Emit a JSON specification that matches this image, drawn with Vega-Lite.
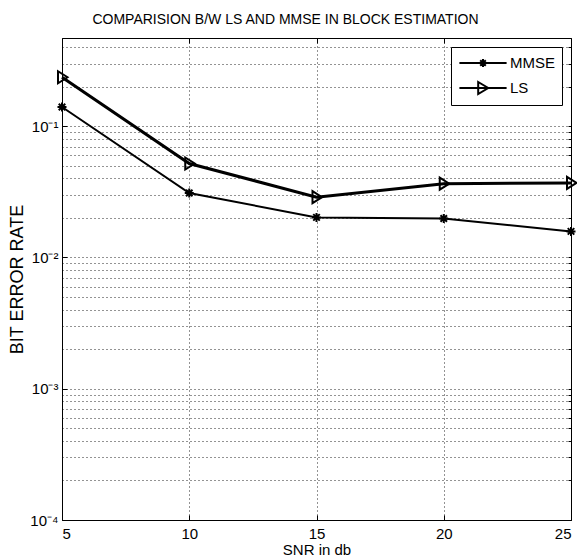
{
  "$schema": "https://vega.github.io/schema/vega-lite/v6.json",
  "width": 509,
  "height": 482,
  "autosize": {"type": "none"},
  "padding": {"left": 62, "top": 38, "right": 6, "bottom": 36},
  "background": "white",
  "title": {
    "text": "COMPARISION B/W LS AND MMSE IN BLOCK ESTIMATION",
    "fontSize": 14,
    "fontWeight": "normal",
    "font": "Liberation Sans",
    "color": "#000",
    "offset": 11,
    "dx": -31
  },
  "config": {
    "view": {"stroke": "#000", "strokeWidth": 1},
    "axis": {
      "domainColor": "#000",
      "tickColor": "#000",
      "labelColor": "#000",
      "titleColor": "#000",
      "labelFont": "Liberation Sans",
      "titleFont": "Liberation Sans",
      "titleFontWeight": "normal",
      "gridColor": "#000",
      "gridDash": [1, 3],
      "gridOpacity": 0.85,
      "gridWidth": 1
    },
    "legend": {
      "labelFont": "Liberation Sans",
      "labelColor": "#000"
    }
  },
  "data": {
    "values": [
      {"snr": 5, "ber": 0.14, "series": "MMSE"},
      {"snr": 10, "ber": 0.031, "series": "MMSE"},
      {"snr": 15, "ber": 0.0202, "series": "MMSE"},
      {"snr": 20, "ber": 0.0198, "series": "MMSE"},
      {"snr": 25, "ber": 0.0158, "series": "MMSE"},
      {"snr": 5, "ber": 0.236, "series": "LS"},
      {"snr": 10, "ber": 0.052, "series": "LS"},
      {"snr": 15, "ber": 0.0288, "series": "LS"},
      {"snr": 20, "ber": 0.0365, "series": "LS"},
      {"snr": 25, "ber": 0.037, "series": "LS"}
    ]
  },
  "layer": [
    {
      "transform": [{"filter": "datum.series === 'MMSE'"}],
      "mark": {"type": "line", "color": "#000", "strokeWidth": 2},
      "encoding": {
        "x": {
          "field": "snr",
          "type": "quantitative",
          "scale": {"domain": [5, 25], "nice": false, "zero": false},
          "axis": {
            "orient": "bottom",
            "values": [5, 10, 15, 20, 25],
            "title": "SNR in db",
            "titleFontSize": 15,
            "titlePadding": 1,
            "labelFontSize": 15,
            "tickSize": -5,
            "labelPadding": 11,
            "domain": false,
            "grid": true
          }
        },
        "y": {
          "field": "ber",
          "type": "quantitative",
          "scale": {"type": "log", "domain": [0.0001, 0.47], "nice": false, "zero": false},
          "axis": {
            "orient": "left",
            "values": [0.0001, 0.001, 0.01, 0.1],
            "labelExpr": "datum.value < 0.0005 ? '10⁻⁴' : datum.value < 0.005 ? '10⁻³' : datum.value < 0.05 ? '10⁻²' : '10⁻¹'",
            "title": "BIT ERROR RATE",
            "titleFontSize": 18,
            "titlePadding": 3,
            "labelFontSize": 15,
            "tickSize": -5,
            "labelPadding": 9,
            "domain": false,
            "grid": false
          }
        }
      }
    },
    {
      "transform": [{"filter": "datum.series === 'LS'"}],
      "mark": {"type": "line", "color": "#000", "strokeWidth": 3},
      "encoding": {
        "x": {"field": "snr", "type": "quantitative", "axis": null},
        "y": {"field": "ber", "type": "quantitative", "axis": null}
      }
    },
    {
      "mark": {"type": "point", "size": 100, "filled": false, "strokeWidth": 2, "color": "#000", "opacity": 1},
      "encoding": {
        "x": {
          "field": "snr",
          "type": "quantitative",
          "axis": {
            "orient": "top",
            "values": [5, 10, 15, 20, 25],
            "title": null,
            "labels": false,
            "tickSize": -5,
            "domain": false,
            "grid": false
          }
        },
        "y": {
          "field": "ber",
          "type": "quantitative",
          "axis": {
            "orient": "right",
            "values": [0.0001, 0.0002, 0.0003, 0.0004, 0.0005, 0.0006, 0.0007, 0.0008, 0.0009, 0.001, 0.002, 0.003, 0.004, 0.005, 0.006, 0.007, 0.008, 0.009, 0.01, 0.02, 0.03, 0.04, 0.05, 0.06, 0.07, 0.08, 0.09, 0.1, 0.2, 0.3, 0.4],
            "title": null,
            "labels": false,
            "tickSize": -3,
            "domain": false,
            "grid": true
          }
        },
        "shape": {
          "field": "series",
          "scale": {
            "domain": ["MMSE", "LS"],
            "range": [
              "M-0.9,0L0.9,0M0,-0.9L0,0.9M-0.65,-0.65L0.65,0.65M-0.65,0.65L0.65,-0.65",
              "M-0.8,-1.2L1.1,0L-0.8,1.2Z"
            ]
          },
          "legend": null
        }
      }
    },
    {
      "mark": {"type": "point", "size": 256, "filled": false, "strokeWidth": 2, "color": "#000", "opacity": 0},
      "encoding": {
        "x": {"field": "snr", "type": "quantitative", "axis": null},
        "y": {"field": "ber", "type": "quantitative", "axis": null},
        "shape": {
          "field": "series",
          "scale": {
            "domain": ["MMSE", "LS"],
            "range": [
              "M-2.95,0L2.95,0M-0.5,0L0.5,0M0,-0.5L0,0.5M-0.35,-0.35L0.35,0.35M-0.35,0.35L0.35,-0.35",
              "M-2.95,0L2.95,0M-0.6,-0.75L0.65,0L-0.6,0.75Z"
            ]
          },
          "legend": {
            "title": null,
            "orient": "top-right",
            "offset": 9,
            "strokeColor": "#000",
            "fillColor": "#fff",
            "padding": 7,
            "symbolSize": 256,
            "symbolOffset": 16,
            "symbolStrokeWidth": 2,
            "symbolStrokeColor": "#000",
            "symbolFillColor": "transparent",
            "symbolOpacity": 1,
            "labelFontSize": 15,
            "labelOffset": 18,
            "rowPadding": 7
          }
        }
      }
    }
  ],
  "resolve": {
    "axis": {"x": "independent", "y": "independent"},
    "scale": {"shape": "independent"},
    "legend": {"shape": "independent"}
  }
}
